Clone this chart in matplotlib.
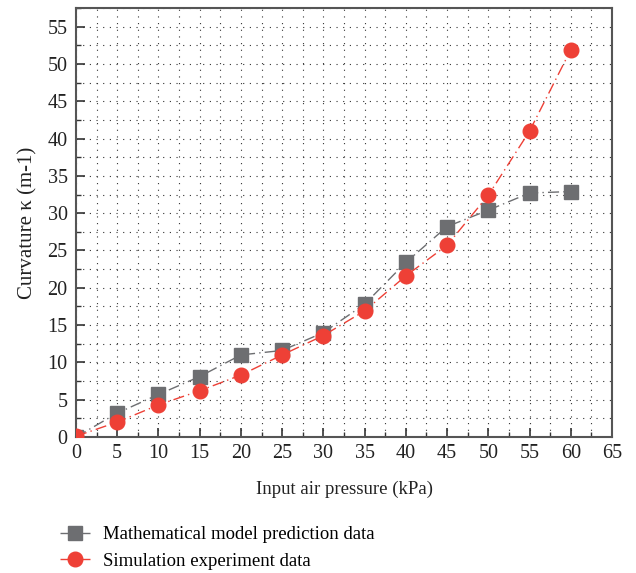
import matplotlib
matplotlib.use("Agg")
import matplotlib.pyplot as plt
from matplotlib.ticker import MultipleLocator

pressure = [0, 5, 10, 15, 20, 25, 30, 35, 40, 45, 50, 55, 60]
model_pred = [0.0, 3.2, 5.7, 8.1, 11.0, 11.6, 14.0, 17.8, 23.4, 28.2, 30.4, 32.7, 32.9]
simulation = [0.1, 2.0, 4.3, 6.2, 8.3, 11.0, 13.6, 16.9, 21.6, 25.7, 32.4, 41.0, 51.9]

plt.rcParams['font.family'] = ['Liberation Serif', 'DejaVu Serif']

fig = plt.figure(figsize=(6.36, 5.73), dpi=100)
ax = fig.add_axes([76/636, 1-437/573, (612-76)/636, (437-8)/573])

gray = '#6d6e71'
red = '#ee4036'
ax.plot(pressure, model_pred, linestyle=(0, (8, 3, 1, 3)), color=gray, lw=1.0,
        marker='s', markersize=9.5, markerfacecolor=gray, markeredgecolor=gray,
        label='Mathematical model prediction data', zorder=3)
ax.plot(pressure, simulation, linestyle=(0, (8, 3, 1, 3)), color=red, lw=1.0,
        marker='o', markersize=10.5, markerfacecolor=red, markeredgecolor=red,
        label='Simulation experiment data', zorder=4)

ax.set_xlim(0, 65)
ax.set_ylim(0, 57.5)
ax.xaxis.set_major_locator(MultipleLocator(5))
ax.xaxis.set_minor_locator(MultipleLocator(2.5))
ax.yaxis.set_major_locator(MultipleLocator(5))
ax.yaxis.set_minor_locator(MultipleLocator(2.5))
ax.grid(which='both', color='#333333', linestyle=(0, (1, 5)), linewidth=0.8)
ax.set_axisbelow(True)

ax.tick_params(which='both', direction='in', top=False, right=False, labelsize=14.5,
               colors='#333333', labelcolor='#222222')
ax.tick_params(which='major', length=6.5, width=1.2)
ax.tick_params(which='minor', length=3.5, width=1.0)
ax.tick_params(axis='y', which='major', pad=6)
ax.tick_params(axis='x', which='major', pad=5)
for s in ax.spines.values():
    s.set_color('#555555')
    s.set_linewidth(1.5)

ax.set_xlabel('Input air pressure (kPa)', fontsize=13.5, color='#222222', labelpad=13)
ax.set_ylabel('Curvature κ (m-1)', fontsize=15, color='#222222', labelpad=7)

fig.legend(loc='upper left', bbox_to_anchor=(60/636, 1-526/573), frameon=False,
           fontsize=13.5, handlelength=1.6, handletextpad=0.7, labelspacing=0.5,
           borderaxespad=0, borderpad=0)

fig.savefig('out.png', dpi=100)
